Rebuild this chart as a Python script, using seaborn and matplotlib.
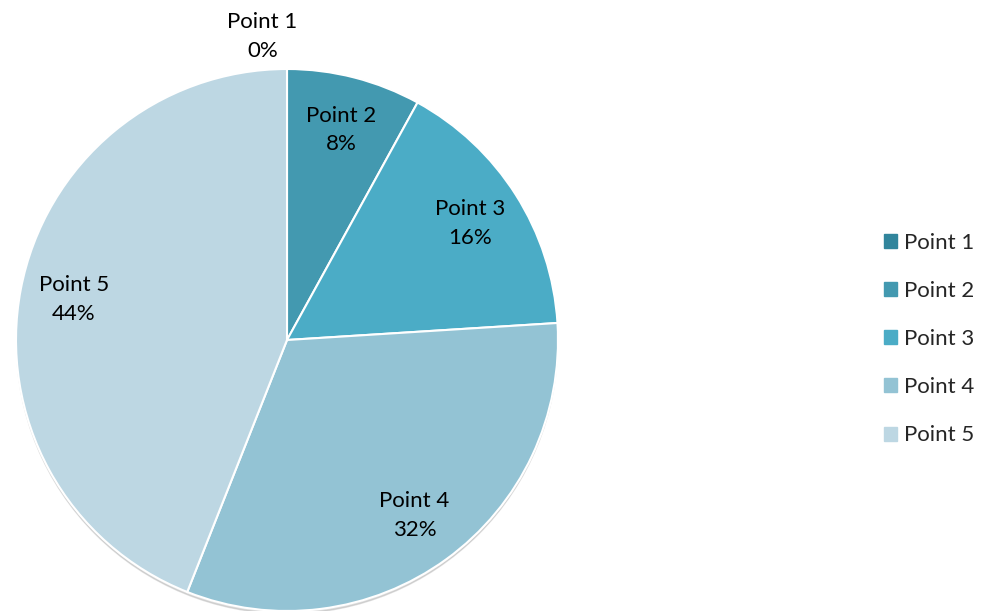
import numpy as np
import matplotlib
matplotlib.use("Agg")
import matplotlib.pyplot as plt
import seaborn as sns

# Data
labels = ['Point 1', 'Point 2', 'Point 3', 'Point 4', 'Point 5']
shares = [0, 8, 16, 32, 44]
colors = ['#31859c', '#4399b0', '#4bacc6', '#93c3d4', '#bdd7e3']

sns.set_theme(style='white')
plt.rcParams['font.family'] = ['Lato', 'DejaVu Sans']

fig = plt.figure(figsize=(9.91, 6.13), dpi=100)
# pie centre ~ (287, 340) px, radius ~ 271 px
cx, cy, r = 287, 340, 271
ax = fig.add_axes([(cx - r) / 991, (613 - cy - r) / 613, 2 * r / 991, 2 * r / 613])

# soft shadow under the pie
ax.add_patch(plt.Circle((0.0, -0.012), 0.998, color='#a0a0a0', alpha=0.35, zorder=0))

wedges, _ = ax.pie(shares, colors=colors, startangle=90, counterclock=False,
                   wedgeprops=dict(edgecolor='white', linewidth=1.5))
for w in wedges:
    w.set_zorder(1)

# labels: name + percent
for w, name, val in zip(wedges, labels, shares):
    mid = np.deg2rad((w.theta1 + w.theta2) / 2)
    dist = 1.12 if val == 0 else 0.8
    x, y = dist * np.cos(mid), dist * np.sin(mid)
    if val == 0:
        x -= 0.09
    ax.text(x, y, f'{name}\n{val}%', ha='center', va='center',
            fontsize=16, color='black', linespacing=1.55, zorder=3)

ax.set_xlim(-1, 1)
ax.set_ylim(-1, 1)
ax.set_aspect('equal')
ax.axis('off')

handles = [plt.Rectangle((0, 0), 1, 1, color=c) for c in colors]
fig.legend(handles, labels, loc='center left', bbox_to_anchor=(864 / 991, 1 - 339 / 613),
           frameon=False, fontsize=16, handlelength=0.6, handleheight=0.6,
           handletextpad=0.3, labelspacing=1.27)

fig.savefig('out.png', dpi=100)
